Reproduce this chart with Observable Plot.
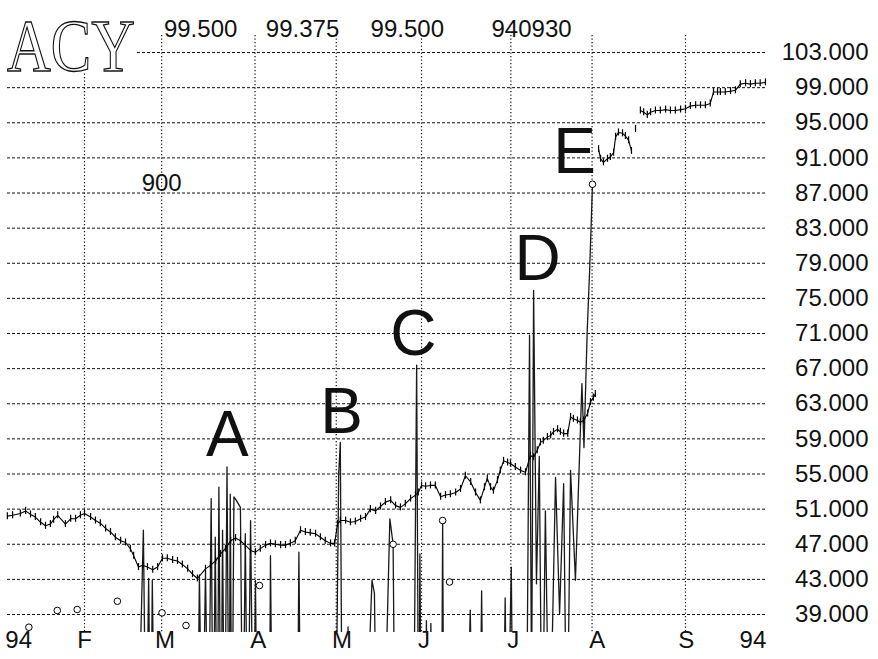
<!DOCTYPE html>
<html>
<head>
<meta charset="utf-8">
<script src="https://cdn.jsdelivr.net/npm/d3@7"></script>
<script src="https://cdn.jsdelivr.net/npm/@observablehq/plot@0.6"></script>
<style>
  html, body { margin: 0; padding: 0; background: #fff; }
  #chart { width: 878px; height: 659px; }
</style>
</head>
<body>
<div id="chart"></div>
<script>
// ---- Data (x = trading-day index in 1994, y = price) ----
const yTicks = [39, 43, 47, 51, 55, 59, 63, 67, 71, 75, 79, 83, 87, 91, 95, 99, 103];
const monthDays = [20, 39, 62, 82, 103, 125, 145, 168];
const xLabelText = ["94", "F", "M", "A", "M", "J", "J", "A", "S", "94"];
const xLabelDay = [3.8, 20, 39.8, 62.8, 83.4, 103.6, 125.6, 146.3, 168.2, 184.6];

const headerText = ["99.500", "99.375", "99.500", "940930"];
const headerDay = [48.6, 73.7, 99.5, 130.1];

const priceDay = [
  1.0, 2.3, 4.2, 5.5, 6.7, 7.9, 9.2, 10.4, 11.6, 12.4, 13.4, 15.3, 16.6, 17.8, 19.0, 20.0,
  21.5, 22.7, 23.9, 25.2, 26.4, 27.6, 28.9, 30.1, 31.3, 32.1, 33.3, 34.3, 35.5, 36.8, 38.0,
  39.2, 40.4, 41.7, 42.9, 44.1, 45.4, 46.6, 47.8, 49.8, 51.0, 52.3, 53.5, 54.7, 56.0, 57.2,
  58.4, 59.6, 60.9, 62.1, 63.3, 64.6, 65.8, 67.0, 68.3, 69.5, 70.7, 71.9, 73.2, 74.4, 75.6,
  76.9, 78.1, 79.3, 80.6, 81.6, 82.3, 83.0, 84.3, 85.5, 86.7, 88.0, 89.2, 90.4, 91.7, 92.9,
  94.1, 95.4, 96.6, 97.8, 99.0, 100.3, 101.5, 102.2, 103.0, 104.0, 105.2, 106.4, 107.7, 108.9,
  110.1, 111.4, 112.6, 113.8, 115.1, 116.3, 117.5, 118.5, 119.2, 120.0, 120.7, 121.7, 122.4,
  123.2, 124.2, 124.9, 126.1, 127.4, 128.6, 129.8, 130.6, 131.5, 132.3, 133.0, 134.0, 134.8,
  135.5, 136.5, 137.2, 138.0, 139.0, 139.7, 140.4, 141.4, 142.1, 142.9, 143.9, 144.6, 145.3,
  145.8, 146.2,
  146.6, 147.1, 147.8, 148.8, 149.5, 150.3, 150.8, 151.5, 152.5, 153.2, 154.0, 154.7, 155.2,
  155.7, 156.3,
  156.9, 157.7, 158.6, 159.4, 160.6, 161.8, 163.1, 164.3, 165.5, 166.8, 168.0, 169.2, 170.5,
  171.7, 172.9, 174.1, 174.9, 175.9, 176.6, 177.8, 179.1, 180.3, 181.5, 182.8, 184.0, 185.2,
  186.4, 187.7
];
const priceVal = [
  50.2, 50.3, 50.5, 50.8, 50.4, 50.1, 49.5, 49.1, 49.3, 49.8, 50.3, 49.3, 49.9, 49.9, 50.3, 50.5,
  50.1, 49.7, 49.4, 48.8, 48.4, 47.8, 47.4, 47.2, 46.5, 45.7, 44.4, 44.6, 44.4, 44.1, 44.4,
  45.4, 45.4, 45.2, 45.1, 44.7, 44.2, 43.6, 43.1, 44.2, 44.6, 45.1, 45.9, 46.5, 47.4, 47.7,
  47.4, 46.9, 46.3, 46.1, 46.5, 46.9, 47.1, 47.0, 46.9, 46.9, 47.1, 47.4, 48.6, 48.4, 48.3,
  48.2, 47.8, 47.4, 47.1, 47.1, 49.3, 49.7, 49.7, 49.5, 49.6, 49.9, 50.1, 51.0, 50.8, 51.3,
  51.8, 52.0, 51.4, 51.2, 51.6, 52.2, 52.6, 52.9, 53.7, 53.6, 53.7, 53.7, 52.4, 52.6,
  52.7, 52.9, 53.3, 54.8, 54.1, 52.9, 52.0, 53.5, 54.5, 53.5, 53.1, 54.3, 55.4,
  56.5, 56.3, 56.2, 55.8, 55.4, 55.2, 57.1, 56.9, 57.7, 58.6, 58.8, 59.2, 59.4,
  59.8, 60.1, 59.8, 59.6, 59.6, 61.5, 61.3, 61.1, 60.9, 61.1, 61.9, 63.2, 63.7,
  64.1, null,
  92.0, 90.9, 90.5, 90.9, 91.1, 91.6, 93.4, 93.9, 93.8, 93.5, 93.0, 91.8, null,
  94.3, null,
  96.4, 96.2, 95.9, 96.2, 96.4, 96.4, 96.5, 96.4, 96.4, 96.5, 96.6, 96.9, 97.0,
  97.0, 97.0, 97.2, 98.5, 98.5, 98.5, 98.5, 98.6, 98.7, 99.4, 99.5, 99.4, 99.5,
  99.5, 99.6
];

const oscDay = [
  33.0, 34.5, 35.2, 35.8, 36.3, 36.7, 37.3, 47.8, 48.3, 49.0,
  49.8, 50.5, 51.2, 51.7, 52.2, 52.7, 53.1, 53.6, 54.0, 54.5,
  55.1, 55.6, 55.9, 56.3, 56.8, 57.4, 58.4, 59.0, 59.6, 60.2,
  60.9, 61.6, 62.1, 62.6, 65.5, 65.8, 66.3, 72.4, 72.8, 73.3,
  81.8, 82.6, 83.0, 83.5, 84.6, 84.9, 85.3, 89.0, 90.8, 91.4,
  92.0, 93.6, 95.2, 96.0, 96.5, 101.0, 101.8, 102.3, 102.6, 103.0,
  103.9, 104.2, 104.6, 105.0, 105.3, 105.8, 107.9, 108.2, 108.5, 114.0,
  115.0, 115.7, 117.3, 117.8, 118.3, 123.0, 123.6, 124.1, 125.1, 125.6,
  128.8, 129.6, 130.1, 130.6, 131.3, 132.0, 132.7, 133.5, 134.5, 136.0,
  137.0, 138.0, 138.8, 139.7, 140.9, 142.5, 143.0, 143.8, 144.4, 145.1
];
const oscVal = [
  20, 48.6, 20, 43.1, 20, 42.9, 20, 20, 43.5, 20,
  44.0, 20, 52.2, 20, 47.8, 20, 53.5, 20, 48.6, 20,
  55.8, 20, 52.7, 20, 52.4, 52.0, 51.2, 20, 48.2, 20,
  49.7, 20, 42.9, 20, 20, 45.7, 20, 20, 46.1, 20,
  20, 55.0, 58.6, 20, 20, 37.6, 20, 20, 42.9, 41.4,
  20, 20, 49.9, 47.0, 20, 20, 67.4, 20, 45.9, 20,
  20, 38.3, 20, 20, 38.0, 20, 20, 49.7, 20, 20,
  39.5, 20, 20, 41.7, 20, 20, 40.9, 20, 44.4, 20,
  20, 70.8, 30, 75.9, 42.5, 57.0, 20, 50.8, 20, 54.6,
  39.1, 53.9, 20, 55.4, 42.9, 65.3, 58.0, 71.3, 78.2, 88.0
];

const circDay = [6.3, 13.3, 18.2, 28.1, 39.1, 45.0, 63.1, 96.0, 108.2, 109.9, 145.1];
const circVal = [37.55, 39.46, 39.57, 40.51, 39.19, 37.75, 42.3, 47.0, 49.7, 42.7, 88.0];

const letterText = ["A", "B", "C", "D", "E"];
const letterDay = [55.2, 83.3, 101.0, 131.6, 140.7];
const letterVal = [59.4, 62.0, 70.9, 79.4, 91.6];

const noteText = ["900"];
const noteDay = [39.0];
const noteVal = [88.1];

// ---- Build tables ----
const price = priceDay.map((d, i) => ({day: d, v: priceVal[i]}));
const osc = oscDay.map((d, i) => ({day: d, v: oscVal[i]}));
const circles = circDay.map((d, i) => ({day: d, v: circVal[i]}));
const letters = letterText.map((t, i) => ({t, day: letterDay[i], v: letterVal[i]}));
const notes = noteText.map((t, i) => ({t, day: noteDay[i], v: noteVal[i]}));
const xLabels = xLabelText.map((t, i) => ({t, day: xLabelDay[i]}));
const header = headerText.map((t, i) => ({t, day: headerDay[i]}));

const sans = "'Liberation Sans', Arial, Helvetica, sans-serif";

const plot = Plot.plot({
  width: 878,
  height: 659,
  marginLeft: 7,
  marginRight: 111,
  marginTop: 35,
  marginBottom: 27,
  x: {domain: [1.04, 188.2], axis: null},
  y: {domain: [36.95, 104.94], axis: null},
  style: {fontFamily: sans, background: "#fff", color: "#111", overflow: "visible"},
  marks: [
    Plot.ruleY(yTicks, {stroke: "#111", strokeWidth: 1, strokeDasharray: "3,2"}),
    Plot.ruleX(monthDays, {stroke: "#111", strokeWidth: 1.2, strokeDasharray: "1.2,2.3"}),
    Plot.line(osc, {x: "day", y: "v", stroke: "#1a1a1a", strokeWidth: 1.3, clip: true}),
    Plot.line(price, {x: "day", y: "v", stroke: "#000", strokeWidth: 1.1}),
    Plot.ruleX(price.filter(d => d.v != null), {
      x: "day", y1: d => d.v - 0.4, y2: d => d.v + 0.4, stroke: "#000", strokeWidth: 1.2
    }),
    Plot.dot(circles, {x: "day", y: "v", r: 3.3, stroke: "#000", fill: "#fff", strokeWidth: 1}),
    Plot.text(letters, {x: "day", y: "v", text: "t", fontSize: 64, fill: "#111", lineAnchor: "middle"}),
    Plot.text(notes, {x: "day", y: "v", text: "t", fontSize: 24, fill: "#111"}),
    Plot.text(yTicks, {
      y: d => d, text: d => d3.format(".3f")(d), frameAnchor: "right",
      textAnchor: "end", dx: 101, fontSize: 24, fill: "#111"
    }),
    Plot.text(xLabels, {
      x: "day", text: "t", frameAnchor: "bottom", dy: 15, fontSize: 24, fill: "#111"
    }),
    Plot.text(header, {
      x: "day", text: "t", frameAnchor: "top", dy: -16, fontSize: 24, fill: "#111"
    })
  ]
});

document.getElementById("chart").appendChild(plot);

// Title block in the top-left corner (covers the grid there)
const svg = d3.select(plot);
svg.append("rect")
  .attr("x", 0).attr("y", 0).attr("width", 137).attr("height", 72)
  .attr("fill", "#fff");
svg.append("text")
  .attr("x", 7).attr("y", 71)
  .attr("text-anchor", "start")
  .attr("font-family", "'Liberation Serif', 'DejaVu Serif', serif")
  .attr("font-size", 74)
  .attr("textLength", 128)
  .attr("lengthAdjust", "spacingAndGlyphs")
  .attr("fill", "#fff")
  .attr("stroke", "#111")
  .attr("stroke-width", 1.3)
  .text("ACY");
</script>
</body>
</html>
